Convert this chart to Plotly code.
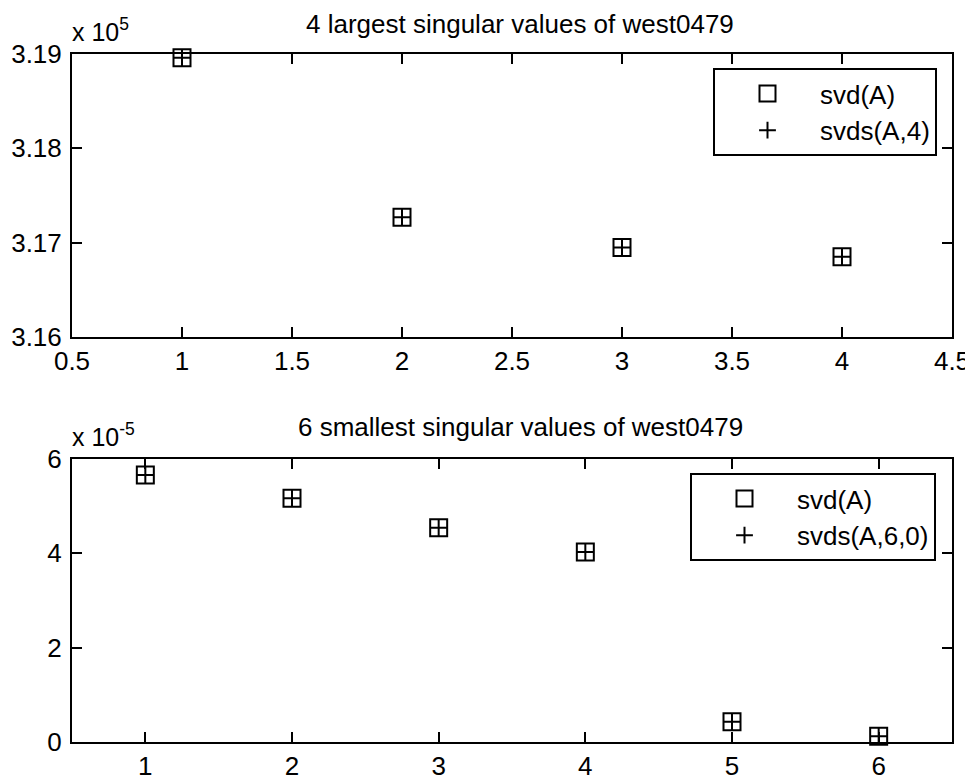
import plotly.graph_objects as go

# ---- data ----
x_large = [1, 2, 3, 4]
svd_large = [3.1896e5, 3.1727e5, 3.1695e5, 3.1685e5]
svds_large = [3.1896e5, 3.1727e5, 3.1695e5, 3.1685e5]

x_small = [1, 2, 3, 4, 5, 6]
svd_small = [5.66e-5, 5.17e-5, 4.54e-5, 4.03e-5, 0.43e-5, 0.12e-5]
svds_small = [5.66e-5, 5.17e-5, 4.54e-5, 4.03e-5, 0.43e-5, 0.12e-5]

top_xticks = [0.5, 1, 1.5, 2, 2.5, 3, 3.5, 4, 4.5]
top_xtext = ["0.5", "1", "1.5", "2", "2.5", "3", "3.5", "4", "4.5"]
top_yticks = [3.16e5, 3.17e5, 3.18e5, 3.19e5]
top_ytext = ["3.16", "3.17", "3.18", "3.19"]
bot_xticks = [1, 2, 3, 4, 5, 6]
bot_xtext = ["1", "2", "3", "4", "5", "6"]
bot_yticks = [0, 2e-5, 4e-5, 6e-5]
bot_ytext = ["0", "2", "4", "6"]

OFF = 8  # page body margin
W, H = 973, 777 - OFF
FONT = "Liberation Sans"
FS = 26

def px(v):
    return (v - OFF) / W

def py(v):
    return 1 - (v - OFF) / H

sq = dict(symbol="square-open", size=17, color="black", line=dict(color="black", width=2))
cr = dict(symbol="cross-thin-open", size=12, color="black", line=dict(color="black", width=2))

fig = go.Figure()
fig.add_trace(go.Scatter(x=x_large, y=svd_large, mode="markers", marker=sq, name="svd(A)",
                         xaxis="x", yaxis="y", legend="legend", cliponaxis=False))
fig.add_trace(go.Scatter(x=x_large, y=svds_large, mode="markers", marker=cr, name="svds(A,4)",
                         xaxis="x", yaxis="y", legend="legend", cliponaxis=False))
fig.add_trace(go.Scatter(x=x_small, y=svd_small, mode="markers", marker=sq, name="svd(A)",
                         xaxis="x2", yaxis="y2", legend="legend2", cliponaxis=False))
fig.add_trace(go.Scatter(x=x_small, y=svds_small, mode="markers", marker=cr, name="svds(A,6,0)",
                         xaxis="x2", yaxis="y2", legend="legend2", cliponaxis=False))

ax_common = dict(showline=True, linecolor="black", linewidth=2, mirror="ticks", ticks="inside",
                 ticklen=10, tickwidth=2, tickcolor="black", showgrid=False, zeroline=False,
                 tickfont=dict(family=FONT, size=FS, color="black"), automargin=False)

xdom = [px(72), px(952)]
leg_common = dict(xanchor="left", yanchor="top", bgcolor="white", bordercolor="black",
                  borderwidth=2, itemwidth=95,
                  font=dict(family=FONT, size=FS, color="black"))
fig.update_layout(
    width=W, height=H, margin=dict(l=0, r=0, t=0, b=0),
    paper_bgcolor="white", plot_bgcolor="white",
    font=dict(family=FONT, size=FS, color="black"),
    xaxis=dict(domain=xdom, range=[0.5, 4.5], tickvals=top_xticks, ticktext=top_xtext,
               anchor="y", ticklabelstandoff=0, **ax_common),
    yaxis=dict(domain=[py(337), py(54)], range=[3.16e5, 3.19e5], tickvals=top_yticks,
               ticktext=top_ytext, anchor="x", ticklabelstandoff=3, **ax_common),
    xaxis2=dict(domain=xdom, range=[0.5, 6.5], tickvals=bot_xticks, ticktext=bot_xtext,
                anchor="y2", ticklabelstandoff=0, **ax_common),
    yaxis2=dict(domain=[py(742), py(459)], range=[0, 6e-5], tickvals=bot_yticks,
                ticktext=bot_ytext, anchor="x2", ticklabelstandoff=3, **ax_common),
    legend=dict(x=px(713), y=py(68), **leg_common),
    legend2=dict(x=px(690), y=py(473), **leg_common),
    showlegend=True,
)

ann_font = dict(family=FONT, size=FS, color="black")
fig.add_annotation(x=px(520), y=py(24), xref="paper", yref="paper", text="4 largest singular values of west0479",
                   showarrow=False, xanchor="center", yanchor="middle", font=ann_font)
fig.add_annotation(x=px(520), y=py(427), xref="paper", yref="paper", text="6 smallest singular values of west0479",
                   showarrow=False, xanchor="center", yanchor="middle", font=ann_font)
fig.add_annotation(x=px(70), y=py(48), xref="paper", yref="paper", text="x 10<sup>5</sup>",
                   showarrow=False, xanchor="left", yanchor="bottom", font=dict(family=FONT, size=25, color="black"))
fig.add_annotation(x=px(70), y=py(453), xref="paper", yref="paper", text="x 10<sup>-5</sup>",
                   showarrow=False, xanchor="left", yanchor="bottom", font=dict(family=FONT, size=25, color="black"))

fig.write_html("out.html", default_width="973px", default_height="769px")
